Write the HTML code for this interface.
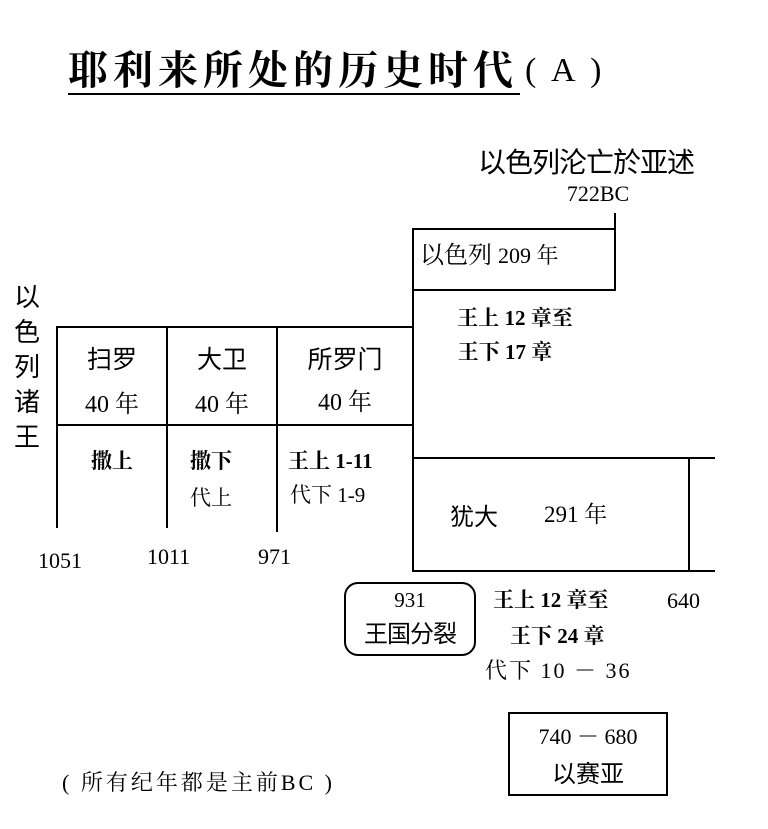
<!DOCTYPE html>
<html><head><meta charset="utf-8"><style>
body{margin:0;width:768px;height:829px;background:#fff;position:relative;overflow:hidden;font-family:"Liberation Serif","Noto Serif CJK SC",serif;color:#000}
.t{position:absolute;white-space:nowrap;line-height:1}
.c{text-align:center}
.h{position:absolute;height:2px;background:#000}
.v{position:absolute;width:2px;background:#000}
.s{font-family:"Liberation Sans","Noto Sans CJK SC",sans-serif}
</style></head><body>
<div class="t" style="left:68px;top:48px;font-size:40px;font-weight:bold;letter-spacing:5px;font-family:'Noto Serif CJK SC',serif">耶利来所处的历史时代</div>
<div class="h" style="left:68px;top:93px;width:452px"></div>
<div class="t" style="left:525px;top:54px;font-size:34px;letter-spacing:4px">( A )</div>

<div class="t s" style="left:478px;top:149px;font-size:28px;letter-spacing:-1px">以色列沦亡於亚述</div>
<div class="t c" style="left:540px;width:116px;top:183px;font-size:22px">722BC</div>

<div class="v" style="left:614px;top:213px;height:78px"></div>
<div class="h" style="left:413px;top:228px;width:203px"></div>
<div class="h" style="left:413px;top:289px;width:203px"></div>
<div class="v" style="left:412px;top:228px;height:344px"></div>
<div class="t" style="left:420px;top:244px;font-size:24px">以色列 <span style="font-size:22px">209 年</span></div>
<div class="t c" style="left:420px;width:190px;top:308px;font-size:21px;font-weight:bold">王上 12 章至</div>
<div class="t c" style="left:420px;width:170px;top:342px;font-size:21px;font-weight:bold">王下 17 章</div>

<div class="h" style="left:57px;top:326px;width:357px"></div>
<div class="h" style="left:57px;top:424px;width:357px"></div>
<div class="v" style="left:56px;top:326px;height:202px"></div>
<div class="v" style="left:166px;top:326px;height:202px"></div>
<div class="v" style="left:276px;top:326px;height:206px"></div>

<div class="t" style="left:14px;top:278px;font-size:26px;line-height:35px;width:28px;white-space:normal;font-family:'Noto Sans CJK SC',sans-serif">以色列诸王</div>

<div class="t c" style="left:57px;width:110px;top:346px;font-size:25px;font-family:'Noto Sans CJK SC',sans-serif">扫罗</div>
<div class="t c" style="left:57px;width:110px;top:393px;font-size:24px">40 年</div>
<div class="t c" style="left:167px;width:110px;top:346px;font-size:25px;font-family:'Noto Sans CJK SC',sans-serif">大卫</div>
<div class="t c" style="left:167px;width:110px;top:393px;font-size:24px">40 年</div>
<div class="t c" style="left:277px;width:136px;top:346px;font-size:25px;font-family:'Noto Sans CJK SC',sans-serif">所罗门</div>
<div class="t c" style="left:277px;width:136px;top:391px;font-size:24px">40 年</div>

<div class="t c" style="left:57px;width:110px;top:451px;font-size:21px;font-weight:bold">撒上</div>
<div class="t" style="left:190px;top:451px;font-size:21px;font-weight:bold">撒下</div>
<div class="t" style="left:190px;top:488px;font-size:21px">代上</div>
<div class="t" style="left:288px;top:451px;font-size:21px;font-weight:bold">王上 1-11</div>
<div class="t" style="left:290px;top:485px;font-size:21px">代下 1-9</div>

<div class="t" style="left:38px;top:550px;font-size:22px">1051</div>
<div class="t" style="left:147px;top:546px;font-size:22px">1011</div>
<div class="t" style="left:258px;top:546px;font-size:22px">971</div>

<div class="h" style="left:413px;top:457px;width:302px"></div>
<div class="h" style="left:413px;top:570px;width:302px"></div>
<div class="v" style="left:688px;top:457px;height:115px"></div>
<div class="t" style="left:450px;top:503px;font-size:24px;font-family:'Noto Sans CJK SC',sans-serif">犹大</div>
<div class="t" style="left:544px;top:503px;font-size:23px">291 年</div>

<div style="position:absolute;left:344px;top:582px;width:132px;height:74px;border:2px solid #000;border-radius:14px;box-sizing:border-box"></div>
<div class="t c" style="left:344px;width:132px;top:590px;font-size:21px">931</div>
<div class="t c" style="left:344px;width:132px;top:620px;font-size:24px;letter-spacing:-1px;font-family:'Noto Sans CJK SC',sans-serif">王国分裂</div>

<div class="t" style="left:493px;top:590px;font-size:21px;font-weight:bold">王上 12 章至</div>
<div class="t" style="left:667px;top:590px;font-size:22px">640</div>
<div class="t" style="left:510px;top:626px;font-size:21px;font-weight:bold">王下 24 章</div>
<div class="t" style="left:485px;top:660px;font-size:22px;letter-spacing:2px">代下 10 － 36</div>

<div style="position:absolute;left:508px;top:712px;width:160px;height:84px;border:2px solid #000;box-sizing:border-box"></div>
<div class="t c" style="left:508px;width:160px;top:726px;font-size:22px">740 － 680</div>
<div class="t c" style="left:508px;width:160px;top:760px;font-size:24px;font-family:'Noto Sans CJK SC',sans-serif">以赛亚</div>

<div class="t" style="left:62px;top:772px;font-size:22px;letter-spacing:3px">( 所有纪年都是主前BC )</div>
</body></html>
